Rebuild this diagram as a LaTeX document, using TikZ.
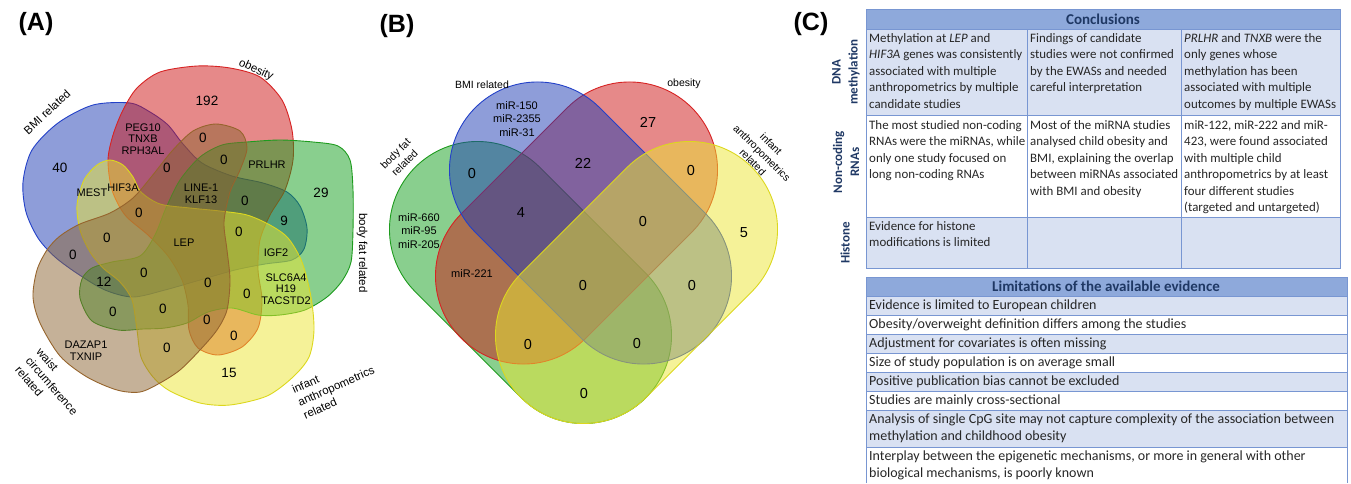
\documentclass[tikz,border=0pt]{standalone}
\usepackage{fontspec}
\setmainfont{Liberation Sans}
\newfontfamily\calfont{Carlito}
\usetikzlibrary{positioning}

\definecolor{setblue}{RGB}{30,60,180}
\definecolor{setred}{RGB}{205,20,20}
\definecolor{setgreen}{RGB}{20,160,30}
\definecolor{setyellow}{RGB}{235,230,50}
\definecolor{setbrown}{RGB}{140,100,50}
\definecolor{lineblue}{RGB}{35,65,200}
\definecolor{linered}{RGB}{215,35,35}
\definecolor{linegreen}{RGB}{30,155,30}
\definecolor{lineyellow}{RGB}{220,215,30}
\definecolor{linebrown}{RGB}{150,100,45}
\definecolor{hdrblue}{RGB}{142,169,219}
\definecolor{rowblue}{RGB}{217,225,242}
\definecolor{gridblue}{RGB}{120,150,210}
\definecolor{navy}{RGB}{31,56,100}
\definecolor{celltext}{RGB}{38,38,38}

\begin{document}
\begin{tikzpicture}[x=1pt, y=-1pt,
    venn/.style={fill opacity=0.5, line width=0.9pt},
    stadium/.style={venn, rectangle, rounded corners=88pt, minimum width=326pt, minimum height=176pt},
    cnt/.style={font=\fontsize{13.5}{15}\selectfont},
    gene/.style={font=\fontsize{11}{11.6}\selectfont, align=center},
    setlbl/.style={font=\fontsize{11.5}{14}\selectfont},
    cntB/.style={font=\fontsize{14.5}{16}\selectfont},
    mirB/.style={font=\fontsize{11}{13.5}\selectfont, align=center},
    setlblB/.style={font=\fontsize{10.5}{13}\selectfont},
    panel/.style={font=\fontsize{25}{28}\selectfont\bfseries},
    gridline/.style={draw=gridblue, line width=0.8pt},
    celltxt/.style={font=\calfont\fontsize{12.9}{16.5}\selectfont, text=celltext, anchor=north west, inner sep=0pt, align=left},
    limtxt/.style={font=\calfont\fontsize{14}{17.5}\selectfont, text=celltext, anchor=west, inner sep=0pt, align=left},
    hdr/.style={font=\calfont\fontsize{15}{17}\selectfont\bfseries, text=navy},
    sidelbl/.style={font=\calfont\fontsize{13}{17}\selectfont\bfseries, text=navy, rotate=90, align=center}
  ]
  \useasboundingbox (0,0) rectangle (1351,483);

  % (A)
  \node[panel] (labA) at (36,24) {(A)};
  \draw[venn, fill=setblue, draw=lineblue] plot[smooth cycle] coordinates {(130,103) (150,112) (168,125) (183,144) (202,163) (232,176) (263,183) (287,192) (300,206) (307,228) (304,249) (292,260) (265,264) (235,270) (200,280) (165,290) (133,297) (105,290) (78,274) (55,257) (38,238) (26,212) (23,182) (32,150) (58,123) (93,105)};
  \draw[venn, fill=setred, draw=linered] plot[smooth cycle] coordinates {(137,88) (160,72) (197,66) (230,68) (260,77) (282,100) (292,130) (293,160) (285,190) (270,215) (260,240) (258,270) (262,300) (258,328) (242,347) (218,355) (198,348) (189,330) (188,305) (182,280) (168,256) (148,235) (125,215) (112,190) (108,160) (113,135) (123,110)};
  \draw[venn, fill=setgreen, draw=linegreen] plot[smooth cycle] coordinates {(247,142) (280,140) (313,142) (338,146) (350,160) (353,190) (353,230) (351,262) (342,281) (327,297) (305,310) (280,315) (258,315) (232,308) (208,312) (187,323) (165,328) (143,329) (118,330) (92,321) (80,298) (82,279) (92,268) (112,262) (140,256) (155,235) (166,208) (180,180) (200,157) (222,145)};
  \draw[venn, fill=setyellow, draw=lineyellow] plot[smooth cycle] coordinates {(110,160) (123,165) (133,177) (141,192) (160,204) (190,208) (220,211) (247,215) (270,225) (288,238) (302,262) (311,297) (314,330) (309,357) (293,377) (267,396) (230,405) (200,403) (170,391) (153,377) (141,357) (137,330) (132,300) (120,282) (103,268) (90,252) (80,230) (77,205) (84,180) (97,165)};
  \draw[venn, fill=setbrown, draw=linebrown] plot[smooth cycle] coordinates {(47,250) (37,270) (33,297) (40,323) (60,356) (87,377) (117,390) (140,392) (160,383) (180,370) (200,350) (217,330) (227,310) (230,280) (227,250) (224,222) (230,192) (240,170) (247,148) (240,131) (216,124) (193,131) (172,151) (152,176) (133,198) (110,213) (80,224) (60,236)};

  \node[setlbl, rotate=43] (bmiA) at (47,112) {BMI related};
  \node[setlbl, rotate=-25] (obeA) at (256,70) {obesity};
  \node[setlbl, rotate=-90] (fatA) at (362,253) {body fat related};
  \node[setlbl, rotate=-49, align=left] (waiA) at (52,386) {waist\\circumference\\related};
  \node[setlbl, rotate=24, align=left] (infA) at (336,386) {infant\\anthropometrics\\related};

  \node[cnt] (a1) at (207,101) {192};
  \node[cnt] (a2) at (60,168) {40};
  \node[cnt] (a3) at (167,168) {0};
  \node[cnt] (a4) at (203,138) {0};
  \node[cnt] (a5) at (224,160) {0};
  \node[cnt] (a6) at (321,193) {29};
  \node[cnt] (a7) at (245,201) {0};
  \node[cnt] (a8) at (284,221) {9};
  \node[cnt] (a9) at (139,213) {0};
  \node[cnt] (a10) at (107,238) {0};
  \node[cnt] (a11) at (239,232) {0};
  \node[cnt] (a12) at (73,255) {0};
  \node[cnt] (a13) at (144,273) {0};
  \node[cnt] (a14) at (104,282) {12};
  \node[cnt] (a15) at (208,283) {0};
  \node[cnt] (a16) at (247,294) {0};
  \node[cnt] (a17) at (113,312) {0};
  \node[cnt] (a18) at (163,309) {0};
  \node[cnt] (a19) at (207,320) {0};
  \node[cnt] (a20) at (234,336) {0};
  \node[cnt] (a21) at (167,348) {0};
  \node[cnt] (a22) at (229,373) {15};

  \node[gene] (g1) at (143,139) {PEG10\\TNXB\\RPH3AL};
  \node[gene] (g2) at (267,165) {PRLHR};
  \node[gene] (g3) at (92,193) {MEST};
  \node[gene] (g4) at (123,188) {HIF3A};
  \node[gene] (g5) at (201,194) {LINE-1\\KLF13};
  \node[gene] (g6) at (184,243) {LEP};
  \node[gene] (g7) at (276,253) {IGF2};
  \node[gene] (g8) at (286,289) {SLC6A4\\H19\\TACSTD2};
  \node[gene] (g9) at (86,351) {DAZAP1\\TXNIP};

  % (B)
  \node[panel] (labB) at (397,26) {(B)};
  \node[stadium, fill=setgreen, draw=linegreen, rotate=-45] (fatSh) at (530.5,282.5) {};
  \node[stadium, fill=setred, draw=linered, rotate=45] (obeSh) at (576.5,223) {};
  \node[stadium, fill=setblue, draw=lineblue, rotate=-45] (bmiSh) at (590.5,223) {};
  \node[stadium, fill=setyellow, draw=lineyellow, rotate=45] (infSh) at (636.5,282.5) {};

  \node[setlblB] (bmiB) at (482,85) {BMI related};
  \node[setlblB] (obeB) at (684,84) {obesity};
  \node[setlblB, rotate=45, align=center] (fatB) at (400,158) {body fat\\related};
  \node[setlblB, rotate=-45, align=center] (infB) at (762,153) {infant\\anthropometrics\\related};

  \node[mirB] (m1) at (517,119) {miR-150\\miR-2355\\miR-31};
  \node[mirB] (m2) at (419,231) {miR-660\\miR-95\\miR-205};
  \node[mirB] (m3) at (472,274) {miR-221};
  \node[cntB] (b1) at (648,122) {27};
  \node[cntB] (b2) at (583,163) {22};
  \node[cntB] (b3) at (472,174) {0};
  \node[cntB] (b4) at (691,171) {0};
  \node[cntB] (b5) at (521,213) {4};
  \node[cntB] (b6) at (643,222) {0};
  \node[cntB] (b7) at (744,233) {5};
  \node[cntB] (b8) at (583,286) {0};
  \node[cntB] (b9) at (692,285) {0};
  \node[cntB] (b10) at (528,344) {0};
  \node[cntB] (b11) at (637,343) {0};
  \node[cntB] (b12) at (584,393) {0};

  % (C)
  \node[panel] (labC) at (811,24) {(C)};
  \fill[hdrblue] (866,9) rectangle (1340,29);
  \fill[rowblue] (866,29) rectangle (1340,115) (866,217) rectangle (1340,268);
  \draw[gridline] (866,9) rectangle (1340,268) (866,29) -- (1340,29) (866,115) -- (1340,115) (866,217) -- (1340,217) (1027,29) -- (1027,268) (1181,29) -- (1181,268);
  \node[hdr] (concl) at (1103,19) {Conclusions};
  \node[sidelbl] (dnaLbl) at (846,72) {DNA\\methylation};
  \node[sidelbl] (ncLbl) at (846,162) {Non-coding\\RNAs};
  \node[sidelbl] (hisLbl) at (845,243) {Histone};

  \node[celltxt] (c11) at (869,33) {Methylation at \textit{LEP} and\\\textit{HIF3A} genes was consistently\\associated with multiple\\anthropometrics by multiple\\candidate studies};
  \node[celltxt] (c12) at (1030,33) {Findings of candidate\\studies were not confirmed\\by the EWASs and needed\\careful interpretation};
  \node[celltxt] (c13) at (1184,33) {\textit{PRLHR} and \textit{TNXB} were the\\only genes whose\\methylation has been\\associated with multiple\\outcomes by multiple EWASs};
  \node[celltxt] (c21) at (869,120) {The most studied non-coding\\RNAs were the miRNAs, while\\only one study focused on\\long non-coding RNAs};
  \node[celltxt] (c22) at (1030,120) {Most of the miRNA studies\\analysed child obesity and\\BMI, explaining the overlap\\between miRNAs associated\\with BMI and obesity};
  \node[celltxt] (c23) at (1184,120) {miR-122, miR-222 and miR-\\423, were found associated\\with multiple child\\anthropometrics by at least\\four different studies\\(targeted and untargeted)};
  \node[celltxt] (c31) at (869,221) {Evidence for histone\\modifications is limited};

  \fill[hdrblue] (866,277) rectangle (1347,296);
  \fill[rowblue] (866,296) rectangle (1347,315) (866,334) rectangle (1347,353) (866,372) rectangle (1347,391) (866,410) rectangle (1347,447);
  \draw[gridline] (866,483) -- (866,277) -- (1347,277) -- (1347,483);
  \foreach \yy in {296,315,334,353,372,391,410,447}
    \draw[gridline] (866,\yy) -- (1347,\yy);
  \node[hdr] (limit) at (1106,286.5) {Limitations of the available evidence};
  \node[limtxt] (l1) at (869,305.5) {Evidence is limited to European children};
  \node[limtxt] (l2) at (869,324.5) {Obesity/overweight definition differs among the studies};
  \node[limtxt] (l3) at (869,343.5) {Adjustment for covariates is often missing};
  \node[limtxt] (l4) at (869,362.5) {Size of study population is on average small};
  \node[limtxt] (l5) at (869,381.5) {Positive publication bias cannot be excluded};
  \node[limtxt] (l6) at (869,400.5) {Studies are mainly cross-sectional};
  \node[limtxt] (l7) at (869,428.5) {Analysis of single CpG site may not capture complexity of the association between\\methylation and childhood obesity};
  \node[limtxt] (l8) at (869,465.5) {Interplay between the epigenetic mechanisms, or more in general with other\\biological mechanisms, is poorly known};
\end{tikzpicture}
\end{document}
